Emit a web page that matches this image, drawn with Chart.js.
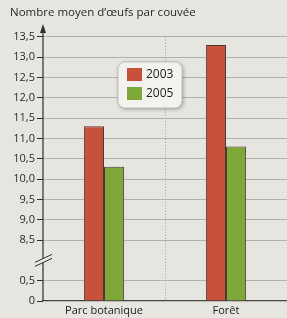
<!DOCTYPE html>
<html><head><meta charset="utf-8">
<script src="https://cdn.jsdelivr.net/npm/chart.js@4"></script>
<style>html,body{margin:0;padding:0;background:#e7e5e0;} #wrap{width:287px;height:318px;position:relative}</style>
</head><body><div id="wrap"><canvas id="c" width="287" height="318"></canvas></div>
<script>
const categories = ["Parc botanique", "Forêt"];
const seriesLabels = ["2003", "2005"];
const values2003 = [11.3, 13.3];
const values2005 = [10.3, 10.8];
const tickValues = [0, 0.5, 8.5, 9.0, 9.5, 10.0, 10.5, 11.0, 11.5, 12.0, 12.5, 13.0, 13.5];
const tickLabels = ["0", "0,5", "8,5", "9,0", "9,5", "10,0", "10,5", "11,0", "11,5", "12,0", "12,5", "13,0", "13,5"];
const colors = ["#c8513c", "#7fa83a"];

// broken axis: 0..0.5 then gap, then 8.5..13.5
function toAxis(v){ return v <= 0.5 ? v*2 : 3 + (v-8.5)*2; }
const labelByPos = {};
tickValues.forEach((v,i)=>{ labelByPos[toAxis(v)] = tickLabels[i]; });

const FONT = "'Open Sans', 'Noto Sans', sans-serif";

const decor = {
  id: 'decor',
  afterDraw(chart){
    const ctx = chart.ctx, ca = chart.chartArea;
    const y = chart.scales.y;
    ctx.save();
    // y axis line + arrow
    ctx.strokeStyle = '#2e2e35'; ctx.lineWidth = 1.2;
    ctx.beginPath(); ctx.moveTo(ca.left, ca.bottom); ctx.lineTo(ca.left, 29); ctx.stroke();
    ctx.fillStyle = '#2e2e35';
    ctx.beginPath(); ctx.moveTo(ca.left, 24); ctx.lineTo(ca.left-3, 33); ctx.lineTo(ca.left+3, 33); ctx.closePath(); ctx.fill();
    // axis break mark
    const yb = (y.getPixelForValue(1) + y.getPixelForValue(3))/2 - 1;
    const x0 = ca.left - 8, x1 = ca.left + 9;
    ctx.fillStyle = '#e7e5e0';
    ctx.beginPath();
    ctx.moveTo(x0, yb+3); ctx.lineTo(x1, yb-5); ctx.lineTo(x1, yb-1); ctx.lineTo(x0, yb+7); ctx.closePath(); ctx.fill();
    ctx.strokeStyle = '#2e2e35'; ctx.lineWidth = 1;
    ctx.beginPath(); ctx.moveTo(x0, yb+3); ctx.lineTo(x1, yb-5); ctx.stroke();
    ctx.beginPath(); ctx.moveTo(x0, yb+7); ctx.lineTo(x1, yb-1); ctx.stroke();
    // legend box
    const bx = 118, by = 62, bw = 64, bh = 46;
    ctx.shadowColor = 'rgba(0,0,0,0.35)'; ctx.shadowBlur = 4; ctx.shadowOffsetX = 1; ctx.shadowOffsetY = 1;
    ctx.fillStyle = '#f3f2ef';
    ctx.beginPath(); ctx.roundRect(bx, by, bw, bh, 7); ctx.fill();
    ctx.shadowColor = 'transparent';
    ctx.strokeStyle = '#b9b6b0'; ctx.lineWidth = 0.8; ctx.stroke();
    chart.data.datasets.forEach((ds,i)=>{
      const sy = by + 6 + i*19;
      ctx.fillStyle = ds.backgroundColor;
      ctx.fillRect(bx+9, sy, 15, 13);
      ctx.fillStyle = '#222';
      ctx.font = "12px " + FONT;
      ctx.textBaseline = 'middle'; ctx.textAlign = 'left';
      ctx.fillText(ds.label, bx+28, sy+7);
    });
    ctx.restore();
  }
};

new Chart(document.getElementById('c'), {
  type: 'bar',
  data: {
    labels: categories,
    datasets: [
      { label: seriesLabels[0], data: values2003.map(toAxis), backgroundColor: colors[0], borderColor: '#4a3b33', borderWidth: 1, barPercentage: 1, categoryPercentage: 0.33 },
      { label: seriesLabels[1], data: values2005.map(toAxis), backgroundColor: colors[1], borderColor: '#4a3b33', borderWidth: 1, barPercentage: 1, categoryPercentage: 0.33 }
    ]
  },
  options: {
    responsive: false,
    animation: false,
    layout: { padding: { left: 10, right: 0, top: 0, bottom: 0 } },
    plugins: {
      legend: { display: false },
      tooltip: { enabled: false },
      title: { display: true, text: "Nombre moyen d\u2019\u0153ufs par couv\u00e9e", align: 'start', color: '#2a2a2a', font: { family: FONT, size: 11.5, weight: 'normal' }, padding: { top: 6, bottom: 17 } }
    },
    scales: {
      x: {
        offset: true,
        grid: { display: true, offset: true, color: (c)=> c.index === 1 ? '#a09e99' : 'transparent', lineWidth: 1, tickLength: 0, drawTicks: false },
        border: { display: true, color: '#444', width: 1.2, dash: [1, 2] },
        ticks: { color: '#222', font: { family: FONT, size: 11 }, padding: 3 },
        afterFit(s){ s.height = 17; }
      },
      y: {
        min: 0, max: 13,
        afterBuildTicks(s){ s.ticks = tickValues.map(v=>({ value: toAxis(v) })); },
        ticks: { callback: (v)=> labelByPos[v] ?? '', color: '#2a2a2a', font: { family: FONT, size: 11 }, padding: 2 },
        grid: { color: (c)=> c.tick && c.tick.value === 0 ? 'transparent' : '#b3b1ac', lineWidth: 1, tickLength: 6, tickColor: '#2e2e35' },
        border: { display: false },
        afterFit(s){ s.width = 33; }
      }
    }
  },
  plugins: [decor]
});
</script>
</body></html>
